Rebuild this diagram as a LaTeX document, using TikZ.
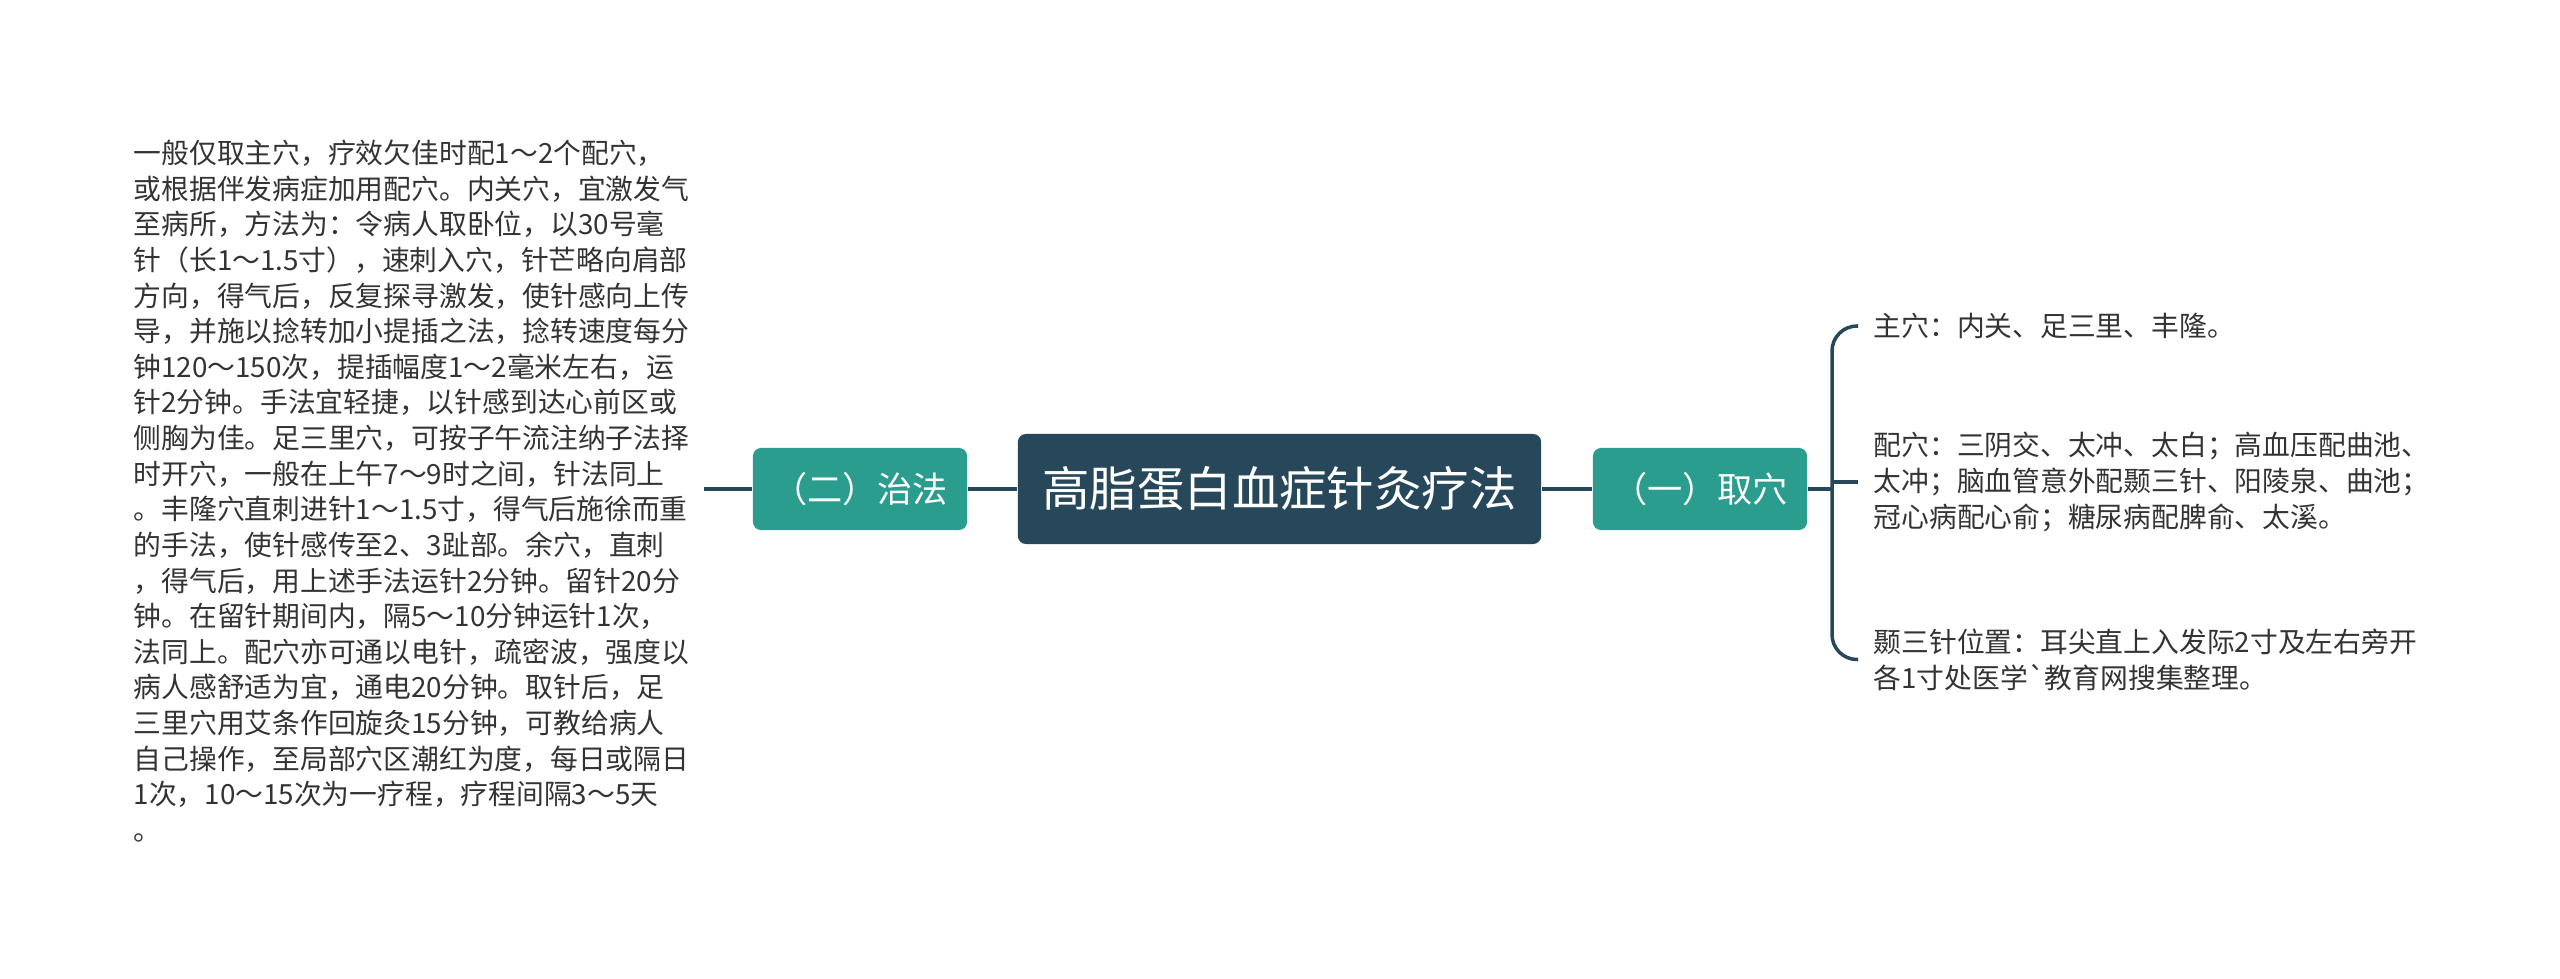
\documentclass[tikz,border=0pt]{standalone}
\usepackage{fontspec}
\setmainfont{Noto Sans CJK SC}
\usepackage{tikz}
\usetikzlibrary{calc,positioning}
\definecolor{slate}{HTML}{27485A}
\definecolor{teal}{HTML}{2A9D8F}
\definecolor{ink}{HTML}{333333}
\tikzstyle{root}   = [rectangle, rounded corners=2.3pt, fill=slate, text=white, minimum width=5.23cm, minimum height=1.10cm, font=\fontsize{13.5pt}{16pt}\selectfont]
\tikzstyle{branch} = [rectangle, rounded corners=2.3pt, fill=teal, text=white, minimum width=2.14cm, minimum height=0.82cm, font=\fontsize{10pt}{12pt}\selectfont]
\tikzstyle{leaf}   = [align=left, text=ink, inner ysep=0pt, inner xsep=0.15cm, font=\fontsize{7.9pt}{10.2pt}\selectfont]
\tikzstyle{link}   = [draw=slate, line width=1pt]

\begin{document}
\begin{tikzpicture}[x=0.01cm, y=-0.01cm]
        \useasboundingbox (0,0) rectangle (2560,979);

        \node[root] (main) at (1279.5,489) {高脂蛋白血症针灸疗法};
        \node[branch] (zhifa) at (860,489) {（二）治法};
        \node[branch] (quxue) at (1700,489) {（一）取穴};

        % left leaf
        \node[leaf, anchor=west, inner xsep=0.14cm, font=\fontsize{7.9pt}{10.13pt}\selectfont] (fa) at (119,491) {%
一般仅取主穴，疗效欠佳时配1～2个配穴，\\
或根据伴发病症加用配穴。内关穴，宜激发气\\
至病所，方法为：令病人取卧位，以30号毫\\
针（长1～1.5寸），速刺入穴，针芒略向肩部\\
方向，得气后，反复探寻激发，使针感向上传\\
导，并施以捻转加小提插之法，捻转速度每分\\
钟120～150次，提插幅度1～2毫米左右，运\\
针2分钟。手法宜轻捷，以针感到达心前区或\\
侧胸为佳。足三里穴，可按子午流注纳子法择\\
时开穴，一般在上午7～9时之间，针法同上\\
。丰隆穴直刺进针1～1.5寸，得气后施徐而重\\
的手法，使针感传至2、3趾部。余穴，直刺\\
，得气后，用上述手法运针2分钟。留针20分\\
钟。在留针期间内，隔5～10分钟运针1次，\\
法同上。配穴亦可通以电针，疏密波，强度以\\
病人感舒适为宜，通电20分钟。取针后，足\\
三里穴用艾条作回旋灸15分钟，可教给病人\\
自己操作，至局部穴区潮红为度，每日或隔日\\
1次，10～15次为一疗程，疗程间隔3～5天\\
。};

        % right leaves
        \node[leaf, anchor=west] (zhu) at (1858,326) {主穴：内关、足三里、丰隆。};
        \node[leaf, anchor=west] (pei) at (1858,482) {配穴：三阴交、太冲、太白；高血压配曲池、\\
太冲；脑血管意外配颞三针、阳陵泉、曲池；\\
冠心病配心俞；糖尿病配脾俞、太溪。};
        \node[leaf, anchor=west] (nie) at (1858,659.5) {颞三针位置：耳尖直上入发际2寸及左右旁开\\
各1寸处医学\textasciigrave 教育网搜集整理。};

        \coordinate (br) at (1832,489);

        \draw[link] (fa.east |- zhifa.west) -- (zhifa.west);
        \draw[link] (zhifa.east) -- (main.west);
        \draw[link] (main.east) -- (quxue.east -| quxue.west);
        \draw[link] (quxue.east) -- (br);
        \draw[link, rounded corners=0.25cm] (zhu.west) -| (br) |- (nie.west);
        \draw[link] (pei.west) -- (pei.west -| br);
    \end{tikzpicture}
\end{document}
